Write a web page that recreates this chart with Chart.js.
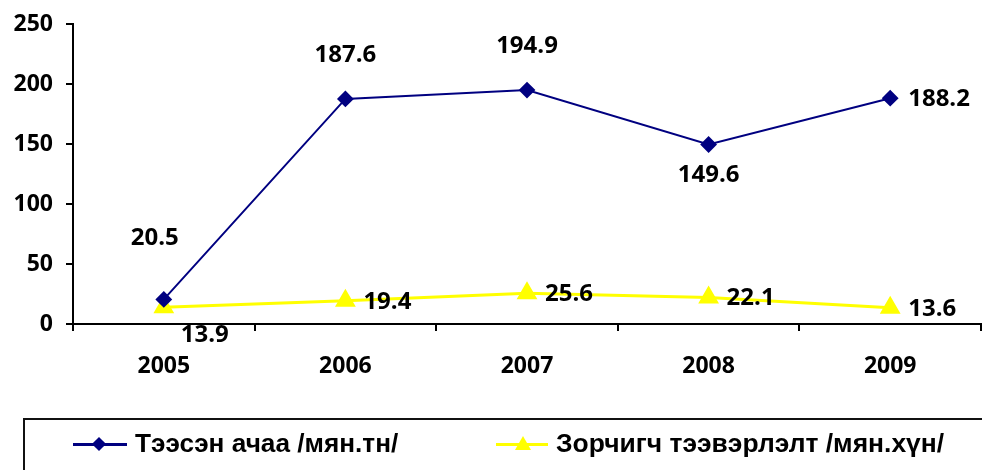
<!DOCTYPE html>
<html><head><meta charset="utf-8">
<script src="https://cdn.jsdelivr.net/npm/chart.js@4.4.1/dist/chart.umd.min.js"></script>
<style>
html,body{margin:0;padding:0;background:#fff;width:982px;height:470px;overflow:hidden;}
#wrap{position:absolute;left:0;top:0;width:982px;height:470px;}
#legendBox{position:absolute;left:23px;top:418px;width:1000px;height:80px;border:2px solid #111;box-sizing:border-box;}
.sample{position:absolute;height:3px;}
.text{position:absolute;height:30px;line-height:30px;white-space:nowrap;display:inline-block;transform-origin:0 50%;
 font-family:"Liberation Sans",Arial,sans-serif;font-weight:bold;font-size:25px;color:#000;}
.dia{position:absolute;width:10px;height:10px;background:#000080;transform:rotate(45deg);}
.tri{position:absolute;width:0;height:0;border-left:8px solid transparent;border-right:8px solid transparent;border-bottom:14px solid #ffff00;}
</style></head>
<body>
<div id="wrap"><canvas id="c" width="982" height="470"></canvas></div>
<div id="legendBox"></div>
<div class="sample" style="left:73px;top:443px;width:54px;background:#000080;"></div>
<div class="dia" style="left:94px;top:439px;"></div>
<span class="text" id="l1" data-w="263" style="left:135px;top:428px;"></span>
<div class="sample" style="left:496px;top:443px;width:52px;background:#ffff00;"></div>
<div class="tri" style="left:515px;top:436px;"></div>
<span class="text" id="l2" data-w="388" style="left:556px;top:428px;"></span>
<script>
const categories = ['2005','2006','2007','2008','2009'];
const cargo = [20.5, 187.6, 194.9, 149.6, 188.2];
const passengers = [13.9, 19.4, 25.6, 22.1, 13.6];
const yTicks = [0, 50, 100, 150, 200, 250];
const seriesNames = ['Тээсэн ачаа /мян.тн/', 'Зорчигч тээвэрлэлт /мян.хүн/'];
const cargoLabelPos = ['above0','above','above','below','right'];
const passLabelPos = ['belowRight','right','right','right','right'];

['l1','l2'].forEach((id, i) => {
  const el = document.getElementById(id);
  el.textContent = seriesNames[i];
  const w = el.offsetWidth;
  el.style.transform = 'scaleX(' + (parseFloat(el.dataset.w) / w) + ')';
});

const labelFont = 'bold 24px "Open Sans", "Liberation Sans", sans-serif';
const posMap = {
  above: {dx: 0, dy: -44, align: 'center'},
  above0: {dx: -9, dy: -61, align: 'center'},
  below: {dx: 0, dy: 31, align: 'center'},
  right: {dx: 18, dy: 1, align: 'left'},
  belowRight: {dx: 17, dy: 28, align: 'left'}
};
const labelPlugin = {
  id: 'vlabels',
  afterDatasetsDraw(chart) {
    const ctx = chart.ctx;
    ctx.save();
    ctx.font = labelFont;
    ctx.fillStyle = '#000';
    ctx.textBaseline = 'middle';
    chart.data.datasets.forEach((ds, di) => {
      const meta = chart.getDatasetMeta(di);
      const positions = di === 0 ? cargoLabelPos : passLabelPos;
      meta.data.forEach((pt, i) => {
        const p = posMap[positions[i]];
        ctx.textAlign = p.align;
        ctx.fillText(ds.data[i].toFixed(1), pt.x + p.dx, pt.y + p.dy);
      });
    });
    ctx.restore();
  }
};
const tickFont = {family: '"Open Sans", "Liberation Sans", sans-serif', weight: 'bold', size: 23};
new Chart(document.getElementById('c'), {
  type: 'line',
  data: {
    labels: categories,
    datasets: [
      {label: seriesNames[0], data: cargo, borderColor: '#000080', backgroundColor: '#000080', borderWidth: 2,
       pointStyle: 'rectRot', pointRadius: 7, pointHoverRadius: 7, tension: 0},
      {label: seriesNames[1], data: passengers, borderColor: '#ffff00', backgroundColor: '#ffff00', borderWidth: 3,
       pointStyle: 'triangle', pointRadius: 9, pointHoverRadius: 9, tension: 0}
    ]
  },
  plugins: [labelPlugin],
  options: {
    responsive: false, animation: false, devicePixelRatio: 1,
    layout: {autoPadding: false, padding: {left: 0, right: 1, top: 24, bottom: 0}},
    plugins: {legend: {display: false}, tooltip: {enabled: false}},
    scales: {
      x: {
        offset: true,
        grid: {display: true, offset: true, drawOnChartArea: false, drawTicks: true, tickLength: 7, color: '#000', lineWidth: 2},
        border: {display: true, color: '#000', width: 2},
        ticks: {font: tickFont, color: '#000', padding: 22, maxRotation: 0},
        afterFit(s) { s.height = 146; s.paddingLeft = 0; s.paddingRight = 0; }
      },
      y: {
        min: 0, max: 250,
        afterBuildTicks(s) { s.ticks = yTicks.map(v => ({value: v})); },
        grid: {display: true, drawOnChartArea: false, drawTicks: true, tickLength: 7, color: '#000', lineWidth: 2},
        border: {display: true, color: '#000', width: 2},
        ticks: {font: tickFont, color: '#000', padding: 13},
        afterFit(s) { s.width = 73; s.paddingTop = 0; s.paddingBottom = 0; }
      }
    }
  }
});
</script>
</body></html>
